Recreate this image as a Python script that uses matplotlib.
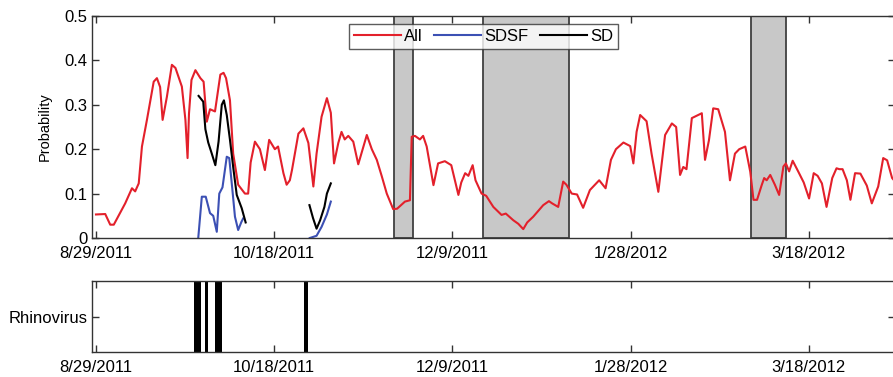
import matplotlib
matplotlib.use("Agg")
import matplotlib.pyplot as plt

plt.rcParams['font.family'] = ['Liberation Sans', 'DejaVu Sans']

# days since 8/29/2011
tick_days = [0, 50, 100, 150, 200]
tick_labels = ['8/29/2011', '10/18/2011', '12/9/2011', '1/28/2012', '3/18/2012']

all_days = [0, 2.6, 4, 5, 8.2, 10.1, 11, 12, 12.9, 14.3, 16.2, 17.1, 18, 18.7, 19.9,
            21.3, 22.3, 24.1, 25.1, 25.7, 26.1, 26.8, 27.9, 29.3, 30.2, 31.1, 32,
            33.4, 34.9, 35.8, 36.5, 37.6, 38.5, 39.9, 41.8, 42.7, 43.4, 44.6, 46,
            47.4, 48.6, 50.2, 51.1, 52.6, 53.5, 54.4, 55, 56.8, 58.2, 59.6, 61,
            61.9, 63.3, 64.8, 65.9, 66.8, 68, 68.9, 69.8, 70.8, 72.2, 73.6, 76,
            77.4, 78.8, 80.2, 81.6, 83.4, 84.5, 86.7, 88.1, 88.6, 89.5, 90.9, 91.8,
            92.8, 94.7, 96, 97.9, 99.7, 101.7, 102.5, 103.6, 104.5, 105.7, 106.5,
            108.2, 109.5, 111.5, 113.8, 115, 117.1, 118.5, 119.9, 121, 122.7, 124,
            125.5, 127.1, 128, 129.7, 131.1, 132, 133.5, 135, 136.7, 138.6, 140,
            141.2, 143, 144.5, 145.9, 148, 149.9, 150.8, 151.7, 152.7, 154.5, 155.9,
            157.8, 159.7, 161.6, 162.8, 163.9, 164.8, 165.7, 167.2, 170, 170.9, 172,
            173.2, 174.6, 176.5, 177.9, 179.3, 180.5, 182.2, 183.6, 184.5, 185.5,
            186.8, 187.5, 188.2, 189.2, 190.5, 191.7, 192.9, 193.6, 194.5, 195.5,
            197.1, 198.6, 200.1, 201.4, 202.5, 203.7, 205, 206.6, 207.8, 208.6,
            209.5, 210.7, 211.7, 213, 214.5, 216.3, 217.7, 219.5, 220.9, 222, 223.4,
            224.5]
all_prob = [0.053, 0.054, 0.03, 0.03, 0.078, 0.112, 0.105, 0.123, 0.206, 0.266, 0.352,
            0.36, 0.34, 0.266, 0.318, 0.39, 0.383, 0.341, 0.266, 0.18, 0.28, 0.356,
            0.378, 0.36, 0.352, 0.262, 0.29, 0.285, 0.368, 0.372, 0.36, 0.31, 0.19,
            0.12, 0.1, 0.1, 0.17, 0.217, 0.2, 0.153, 0.221, 0.2, 0.206, 0.146, 0.12,
            0.13, 0.153, 0.235, 0.247, 0.214, 0.116, 0.19, 0.273, 0.315, 0.282,
            0.168, 0.214, 0.239, 0.222, 0.23, 0.217, 0.166, 0.232, 0.2, 0.176, 0.139,
            0.1, 0.065, 0.066, 0.082, 0.085, 0.228, 0.23, 0.222, 0.23, 0.206, 0.119,
            0.168, 0.173, 0.164, 0.097, 0.125, 0.146, 0.14, 0.164, 0.13, 0.1, 0.095,
            0.07, 0.052, 0.055, 0.04, 0.032, 0.02, 0.035, 0.048, 0.06, 0.074, 0.083,
            0.078, 0.07, 0.127, 0.12, 0.1, 0.098, 0.068, 0.108, 0.12, 0.13, 0.112,
            0.176, 0.2, 0.215, 0.207, 0.168, 0.239, 0.277, 0.263, 0.19, 0.104, 0.232,
            0.258, 0.25, 0.142, 0.16, 0.155, 0.27, 0.281, 0.176, 0.22, 0.292, 0.29,
            0.239, 0.13, 0.19, 0.2, 0.206, 0.149, 0.086, 0.086, 0.119, 0.135, 0.13,
            0.142, 0.12, 0.097, 0.161, 0.168, 0.15, 0.174, 0.149, 0.125, 0.089, 0.146,
            0.14, 0.123, 0.07, 0.135, 0.157, 0.155, 0.155, 0.13, 0.086, 0.146, 0.145,
            0.118, 0.078, 0.116, 0.18, 0.175, 0.135, 0.125]

sdsf_days_1 = [28.7, 29.7, 30.8, 32, 32.9, 33.9, 34.6, 35.5, 36.7, 37.4, 38.2, 39, 39.9, 40.8, 41.3]
sdsf_prob_1 = [0.0, 0.093, 0.093, 0.056, 0.05, 0.014, 0.1, 0.114, 0.183, 0.18, 0.115, 0.048, 0.018, 0.036, 0.044]
sdsf_days_2 = [60, 61.9, 63.3, 64.8, 65.9]
sdsf_prob_2 = [0.0, 0.005, 0.025, 0.053, 0.082]

sd_days_1 = [28.8, 30.1, 30.7, 31.5, 32.5, 33.5, 34.4, 35.3, 35.9, 36.7, 37.6, 38.5, 39.5, 40.9, 42]
sd_prob_1 = [0.32, 0.307, 0.245, 0.215, 0.19, 0.164, 0.217, 0.3, 0.31, 0.277, 0.221, 0.16, 0.097, 0.067, 0.035]
sd_days_2 = [59.9, 60.9, 61.9, 62.9, 64.1, 64.8, 65.9]
sd_prob_2 = [0.074, 0.045, 0.021, 0.04, 0.07, 0.1, 0.123]

# grey bands
bands = [(83.7, 88.9), (108.5, 132.8), (183.7, 193.6)]

# days with a rhinovirus-positive sample
rhino_days = [28, 29, 31, 34, 35, 59]

fig = plt.figure(figsize=(8.93, 3.77), dpi=100)
ax = fig.add_axes([0.1030, 0.3687, 0.8992, 0.5889])
ax2 = fig.add_axes([0.1030, 0.0663, 0.8992, 0.1883])

spine_c = '#333333'
for a in (ax, ax2):
    for s in a.spines.values():
        s.set_color(spine_c)
        s.set_linewidth(1.0)
    a.tick_params(direction='in', length=5, width=1, color=spine_c,
                  top=True, right=True, labelsize=12, pad=3)
    a.tick_params(axis='x', pad=6)
    a.set_xlim(-1.12, 224.2)
    a.set_xticks(tick_days)
    a.set_xticklabels(tick_labels)

for lo, hi in bands:
    ax.axvspan(lo, hi, facecolor='#c8c8c8', edgecolor='#404040', lw=1.3, zorder=0)

lw = 1.5
ax.plot(all_days, all_prob, color='#e3202b', lw=lw, label='All')
ax.plot(sdsf_days_1, sdsf_prob_1, color='#3c50b4', lw=lw, label='SDSF')
ax.plot(sdsf_days_2, sdsf_prob_2, color='#3c50b4', lw=lw)
ax.plot(sd_days_1, sd_prob_1, color='black', lw=lw, label='SD')
ax.plot(sd_days_2, sd_prob_2, color='black', lw=lw)

ax.set_ylim(0, 0.5)
ax.set_yticks([0, 0.1, 0.2, 0.3, 0.4, 0.5])
ax.set_yticklabels(['0', '0.1', '0.2', '0.3', '0.4', '0.5'])
ax.set_ylabel('Probability', fontsize=10.5, labelpad=9)

leg = ax.legend(loc='upper center', bbox_to_anchor=(0.4875, 0.964), ncol=3,
                fontsize=12, frameon=True, fancybox=False, borderaxespad=0,
                handlelength=2.8, handletextpad=0.2, columnspacing=0.7,
                borderpad=0.3)
leg.get_frame().set_edgecolor('#333333')
leg.get_frame().set_linewidth(1.0)

ax2.bar(rhino_days, [1] * len(rhino_days), width=1.0, bottom=0, color='black', lw=0)
ax2.set_ylim(0, 1)
ax2.set_yticks([0.5])
ax2.set_yticklabels(['Rhinovirus'])

fig.savefig('out.png', dpi=100)
